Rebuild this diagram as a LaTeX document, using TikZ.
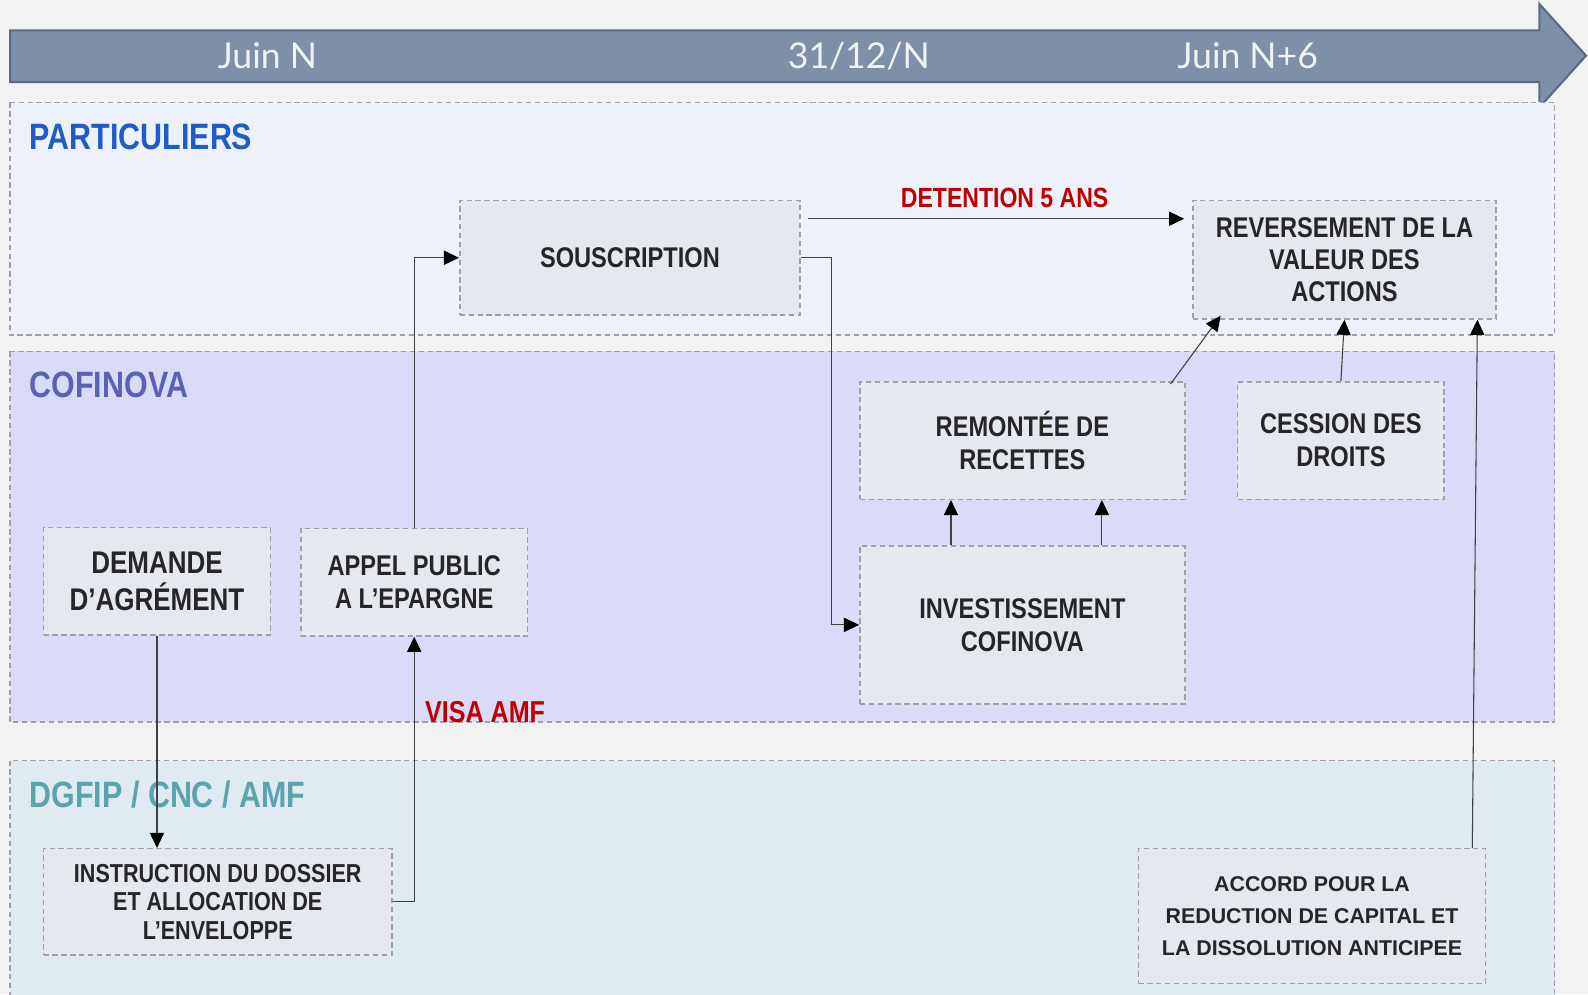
\documentclass[tikz,border=0pt]{standalone}
\usepackage{fontspec}
\setmainfont{Liberation Sans}
\newfontfamily\condf[FakeStretch=0.83]{Liberation Sans}
\newfontfamily\tlfont{Lato}
\usetikzlibrary{arrows.meta,calc}
\definecolor{bgc}{HTML}{F2F2F2}
\definecolor{tlfill}{HTML}{7F8FA9}
\definecolor{tlline}{HTML}{5D6B82}
\definecolor{lanea}{HTML}{EDF1F9}
\definecolor{laneb}{HTML}{D9DBF9}
\definecolor{lanec}{HTML}{DFEBF0}
\definecolor{boxc}{HTML}{E5E8EE}
\definecolor{dashc}{HTML}{A89CAA}
\definecolor{txtc}{HTML}{262626}
\definecolor{bluec}{HTML}{1F5CC4}
\definecolor{violc}{HTML}{5A62B8}
\definecolor{tealc}{HTML}{5BA3AF}
\definecolor{redc}{HTML}{C00000}
\definecolor{linec}{HTML}{404040}
% name, x1, y1, x2, y2, options, text
\newcommand\boxnode[7]{\node[box, minimum width={(#4-#2)*0.02cm}, minimum height={(#5-#3)*0.02cm}, #6] (#1) at ({(#2+#4)/2},{(#3+#5)/2}) {#7};}
\begin{document}
\begin{tikzpicture}[x=0.02cm,y=-0.02cm,
  lane/.style={draw=dashc, line width=0.85pt, dash pattern=on 3pt off 2pt},
  box/.style={draw=dashc, fill=boxc, line width=0.85pt, dash pattern=on 3pt off 2pt,
    inner sep=0pt, align=center, text=txtc,
    font=\condf\bfseries\fontsize{16}{18.7}\selectfont},
  lanelabel/.style={anchor=west, inner sep=0pt, font=\condf\bfseries\fontsize{20.6}{24}\selectfont},
  redlabel/.style={inner sep=0pt, text=redc, font=\condf\bfseries\fontsize{16}{19}\selectfont},
  tllabel/.style={inner sep=0pt, text=bgc, font=\tlfont\fontsize{20}{24}\selectfont},
  conn/.style={draw=linec, line width=0.6pt, -{Triangle[length=8.5pt,width=8pt,color=black]}}]
\useasboundingbox (0,0) rectangle (1568,981.5);
\clip (0,0) rectangle (1568,981.5);
\fill[bgc] (0,0) rectangle (1568,981.5);
% timeline
\draw[tlline, fill=tlfill, line width=1.2pt] (10,30) -- (1520,30) -- (1520,4) -- (1566,55) -- (1520,106) -- (1520,81) -- (10,81) -- cycle;
\node[tllabel] (t1) at (264,55) {Juin N};
\node[tllabel] (t2) at (848,55) {31/12/N};
\node[tllabel] (t3) at (1232,55) {Juin N+6};
% lanes
\fill[lanea] (10,101) rectangle (1535,331);
\draw[lane] (10,101) rectangle (1535,331);
\fill[laneb] (10,347) rectangle (1535,713);
\draw[lane] (10,347) rectangle (1535,713);
\fill[lanec] (10,751) rectangle (1535,1000);
\draw[lane] (10,751) rectangle (1535,1000);
\node[lanelabel, text=bluec] (l1) at (29,135) {PARTICULIERS};
\node[lanelabel, text=violc] (l2) at (29,380) {COFINOVA};
\node[lanelabel, text=tealc] (l3) at (29,785) {DGFIP / CNC / AMF};
% boxes
\boxnode{sous}{454}{198}{790}{311}{}{SOUSCRIPTION}
\boxnode{rev}{1178}{198}{1477}{315}{font=\condf\bfseries\fontsize{16}{17.9}\selectfont}{REVERSEMENT DE LA\\VALEUR DES\\ACTIONS}
\boxnode{rem}{849}{377}{1170}{493}{}{REMONTÉE DE\\RECETTES}
\boxnode{ces}{1222}{377}{1426}{493}{}{CESSION DES\\DROITS}
\boxnode{inv}{849}{539}{1170}{695}{}{INVESTISSEMENT\\COFINOVA}
\boxnode{dem}{43}{521}{267}{627}{font=\condf\bfseries\fontsize{17.6}{20.4}\selectfont}{DEMANDE\\D’AGRÉMENT}
\boxnode{app}{297}{522}{521}{628}{}{APPEL PUBLIC\\A L’EPARGNE}
\boxnode{ins}{43}{838}{387}{943}{font=\condf\bfseries\fontsize{14.6}{16}\selectfont}{INSTRUCTION DU DOSSIER\\ET ALLOCATION DE\\L’ENVELOPPE}
\boxnode{acc}{1124}{838}{1467}{971}{font=\bfseries\fontsize{12}{17.9}\selectfont}{ACCORD POUR LA\\REDUCTION DE CAPITAL ET\\LA DISSOLUTION ANTICIPEE}
% red labels
\node[redlabel, font=\condf\bfseries\fontsize{15.6}{19}\selectfont] (det) at (992,195) {DETENTION 5 ANS};
\node[redlabel, font=\condf\bfseries\fontsize{17}{20}\selectfont] (visa) at (479,703) {VISA AMF};
% connectors
\draw[conn] ([shift={(7,-38.5)}]sous.east) -- ([shift={(-8,-40.5)}]rev.west);
\draw[conn] (sous.east) -- ++(30,0) |- (inv.west);
\draw[conn] (app.north) |- (sous.west);
\draw[conn] (dem.south) -- (dem.south |- ins.north);
\draw[conn] (ins.east) -| (app.south);
\draw[conn] ([shift={(-70.5,0)}]inv.north) -- ([shift={(-70.5,0)}]rem.south);
\draw[conn] ([shift={(78.5,0)}]inv.north) -- ([shift={(78.5,0)}]rem.south);
\draw[conn] ([shift={(-15,3)}]rem.north east) -- ([shift={(28,-4)}]rev.south west);
\draw[conn] (ces.north) -- (rev.south);
\draw[conn] ([shift={(-14,0)}]acc.north east) -- ([shift={(-19,0)}]rev.south east);
\end{tikzpicture}
\end{document}
